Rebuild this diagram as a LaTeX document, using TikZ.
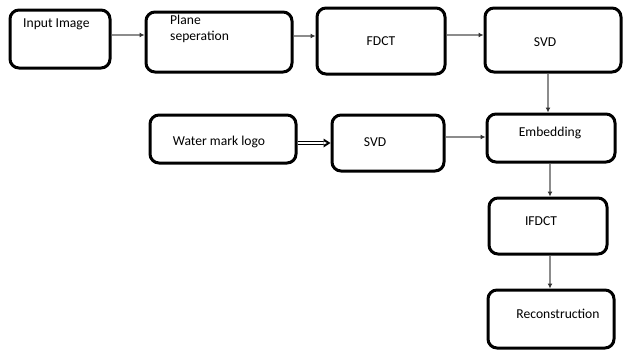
\documentclass[tikz,border=0pt]{standalone}
\usepackage{fontspec}
\setmainfont{Carlito}
\usetikzlibrary{arrows.meta}
\begin{document}
\begin{tikzpicture}[x=1pt,y=-1pt,
  blk/.style={draw=black,line width=3pt,rounded corners=9pt,fill=white},
  lbl/.style={font=\fontsize{13.6}{15}\selectfont,inner sep=0pt,anchor=center},
  flow/.style={draw=black!45,line width=1.6pt,-{Latex[length=5pt,width=5pt,color=black!80]}}]
\useasboundingbox (0,0) rectangle (625,356);
% boxes
\node[blk,minimum width=100pt,minimum height=58pt] (inp) at (60,39) {};
\node[blk,minimum width=146pt,minimum height=60pt] (pln) at (219,42) {};
\node[blk,minimum width=128pt,minimum height=66pt] (fdct) at (381,41) {};
\node[blk,minimum width=136pt,minimum height=64pt] (svd1) at (553,40) {};
\node[blk,minimum width=146pt,minimum height=48pt] (wm) at (223,139) {};
\node[blk,minimum width=112pt,minimum height=56pt] (svd2) at (388,143) {};
\node[blk,minimum width=128pt,minimum height=48pt] (emb) at (551,138) {};
\node[blk,minimum width=118pt,minimum height=56pt] (ifd) at (548,226) {};
\node[blk,minimum width=126pt,minimum height=58pt] (rec) at (551,319) {};
% labels
\node[lbl,anchor=west] (tinp) at (23,24) {Input Image};
\node[lbl,anchor=west,align=left] (tpln) at (170,29) {Plane\\[1pt]seperation};
\node[lbl] (tfdct) at (381,41) {FDCT};
\node[lbl] (tsvd1) at (545,42) {SVD};
\node[lbl] (twm) at (219,142) {Water mark logo};
\node[lbl] (tsvd2) at (375,142) {SVD};
\node[lbl] (temb) at (550,133) {Embedding};
\node[lbl] (tifd) at (541,221) {IFDCT};
\node[lbl] (trec) at (558,314) {Reconstruction};
% connectors
\draw[flow] (inp.east |- 0,35) coordinate (a1) -- (pln.west |- a1);
\draw[flow] (pln.east |- 0,36) coordinate (a2) -- (fdct.west |- a2);
\draw[flow] (fdct.east |- 0,35) coordinate (a3) -- (svd1.west |- a3);
\draw[flow] (svd1.south -| 548,0) coordinate (a4) -- (emb.north -| a4);
\draw[flow] (svd2.east |- 0,137) coordinate (a5) -- (emb.west |- a5);
\draw[flow] (emb.south -| 550,0) coordinate (a6) -- (ifd.north -| a6);
\draw[flow] (ifd.south -| 550,0) coordinate (a7) -- (rec.north -| a7);
% hollow double arrow from the logo to its SVD
\draw[line width=1.1pt,double=white,double distance=2.2pt] (wm.east |- 0,143) coordinate (b1) -- ([xshift=-6pt]svd2.west |- b1) coordinate (b2);
\fill[black] (b2) ++(-1,-4.5) -- ++(7,4.5) -- ++(-7,4.5) -- cycle;
\fill[white] (b2) ++(-1,-1.6) -- ++(3.5,1.6) -- ++(-3.5,1.6) -- cycle;
\end{tikzpicture}
\end{document}
